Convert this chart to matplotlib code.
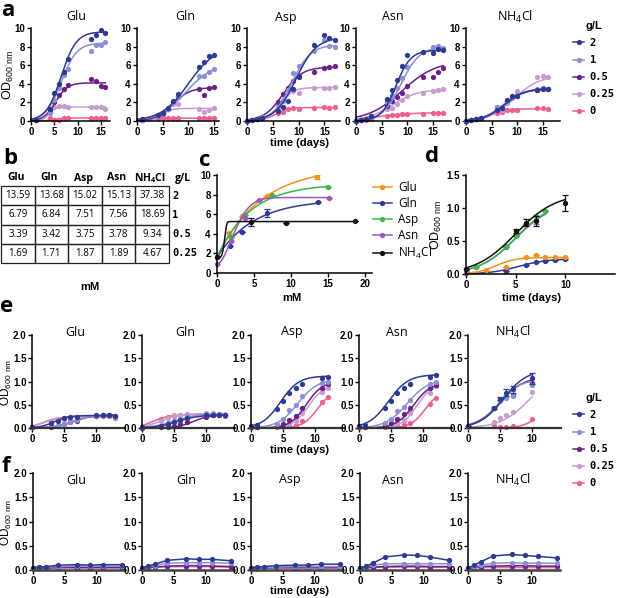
import numpy as np
import matplotlib.pyplot as plt
from matplotlib.lines import Line2D
from matplotlib.patches import Rectangle

plt.rcParams['font.family'] = ['Liberation Sans', 'DejaVu Sans']
plt.rcParams['mathtext.default'] = 'regular'

W, H = 617, 598

doses = ['2', '1', '0.5', '0.25', '0']
dose_colors = ['#2C3A92', '#8C90D0', '#6B2088', '#C59DCF', '#EE5E92']
sources = ['Glu', 'Gln', 'Asp', 'Asn', r'NH$_4$Cl']
src_colors = ['#F7901E', '#2E3A98', '#3DB54A', '#9B58B5', '#111111']

# ---- a: OD600 vs days, rows = 2, 1, 0.5, 0.25, 0 g/L ; fits = (top, x50, k)
a_glu_t = [1, 4, 5, 6, 7, 8, 13, 14, 15, 16]
a_glu = [[0.1, 1.3, 3.0, 4.0, 5.3, 6.7, 8.8, 9.3, 9.8, 9.5],
         [0.1, 0.9, 2.3, 3.6, 5.0, 5.6, 7.5, 8.2, 8.2, 8.5],
         [0.1, 1.0, 2.0, 2.8, 3.4, 3.9, 4.5, 4.3, 3.8, 3.7],
         [0.1, 1.0, 1.5, 1.6, 1.6, 1.5, 1.5, 1.5, 1.5, 1.3],
         [0.1, 0.3, 0.1, 0.1, 0.3, 0.3, 0.35, 0.35, 0.35, 0.35]]
a_glu_fit = [(9.6, 6.5, 0.62), (8.4, 6.5, 0.6), (4.1, 5.3, 0.8), (1.5, 3.8, 1.5), (0.33, 5, 1.0)]

a_gln_t = [1, 4, 5, 6, 7, 8, 12, 13, 14, 15]
a_gln = [[0.2, 0.6, 0.9, 1.4, 2.2, 2.9, 5.8, 6.3, 7.0, 7.1],
         [0.1, 0.5, 0.8, 1.3, 2.0, 2.7, 4.8, 4.8, 5.3, 5.6],
         [0.1, 0.5, 0.8, 1.3, 2.0, 2.6, 3.4, 2.8, 3.5, 3.7],
         [0.1, 0.5, 0.8, 1.3, 1.8, 1.8, 1.3, 1.0, 1.2, 1.4],
         [0.1, 0.3, 0.3, 0.3, 0.3, 0.3, 0.3, 0.3, 0.3, 0.3]]
a_gln_fit = [(8.0, 10.0, 0.38), (6.2, 9.5, 0.38), (3.6, 7.0, 0.6), (1.35, 5.0, 1.2), (0.3, 3.0, 1.0)]

a_asp_t = [0, 1, 2, 3, 6, 7, 8, 9, 10, 13, 15, 16, 17]
a_asp = [[0.05, 0.1, 0.2, 0.3, 1.1, 1.5, 2.2, 3.4, 4.7, 8.2, 9.2, 8.9, 8.7],
         [0.05, 0.1, 0.2, 0.4, 1.5, 2.2, 3.3, 5.2, 5.9, 7.5, 8.7, 8.1, 8.0],
         [0.05, 0.1, 0.2, 0.4, 2.0, 2.9, 3.6, 4.3, 4.8, 5.3, 5.7, 5.8, 5.9],
         [0.05, 0.1, 0.2, 0.4, 1.6, 2.3, 3.4, 3.2, 3.0, 3.6, 3.6, 3.6, 3.7],
         [0.05, 0.1, 0.2, 0.3, 0.9, 1.0, 1.3, 1.4, 1.3, 1.4, 1.5, 1.4, 1.5]]
a_asp_fit = [(9.0, 9.5, 0.5), (8.2, 8.7, 0.55), (5.8, 7.0, 0.55), (3.6, 6.5, 0.8), (1.45, 5.5, 0.8)]

a_asn_t = [0, 1, 2, 3, 6, 7, 8, 9, 10, 13, 15, 16, 17]
a_asn = [[0.05, 0.1, 0.2, 0.5, 2.4, 3.3, 4.4, 5.9, 7.1, 7.4, 7.3, 7.7, 7.6],
         [0.05, 0.1, 0.2, 0.5, 2.0, 2.8, 3.6, 4.6, 5.8, 7.4, 8.0, 8.1, 7.8],
         [0.05, 0.1, 0.2, 0.5, 1.6, 2.1, 2.6, 3.0, 3.8, 4.7, 4.7, 5.3, 5.7],
         [0.05, 0.1, 0.2, 0.4, 1.3, 1.4, 1.8, 2.3, 2.7, 3.0, 3.2, 3.3, 3.4],
         [0.05, 0.1, 0.1, 0.2, 0.55, 0.6, 0.65, 0.7, 0.7, 0.7, 0.85, 0.9, 0.9]]
a_asn_fit = [(7.6, 7.8, 0.7), (8.0, 8.8, 0.55), (6.5, 9.0, 0.3), (3.4, 7.0, 0.4), (0.9, 4.0, 0.3)]

a_nh4_t = [0, 1, 2, 3, 6, 7, 8, 9, 10, 14, 15, 16]
a_nh4 = [[0.05, 0.1, 0.2, 0.3, 1.2, 1.4, 2.3, 2.7, 2.7, 3.3, 3.4, 3.4],
         [0.05, 0.1, 0.2, 0.3, 1.5, 1.4, 2.2, 2.6, 2.8, 3.4, 3.5, 3.4],
         [0.05, 0.1, 0.2, 0.3, 1.3, 1.4, 2.2, 2.6, 2.7, 3.3, 3.5, 3.4],
         [0.05, 0.1, 0.2, 0.3, 1.5, 1.2, 1.9, 2.5, 3.2, 4.7, 4.8, 4.7],
         [0.05, 0.1, 0.2, 0.3, 0.9, 1.0, 1.2, 1.2, 1.2, 1.4, 1.4, 1.3]]
a_nh4_fit = [(3.5, 7.5, 0.5), (3.5, 7.3, 0.5), (3.45, 7.4, 0.5), (4.9, 9.5, 0.4), (1.3, 5.0, 0.8)]

# ---- b: mM equivalents of each g/L
b_gl = ['2', '1', '0.5', '0.25']
b_mm = [[13.59, 13.68, 15.02, 15.13, 37.38],
        [6.79, 6.84, 7.51, 7.56, 18.69],
        [3.39, 3.42, 3.75, 3.78, 9.34],
        [1.69, 1.71, 1.87, 1.89, 4.67]]

# ---- c: max OD vs mM ; fits = (y0, top, x0, h)
c_x = [[0, 1.69, 3.39, 6.79, 13.59],
       [0, 1.71, 3.42, 6.84, 13.68],
       [0, 1.87, 3.75, 7.51, 15.02],
       [0, 1.89, 3.78, 5.67, 15.13],
       [0, 4.67, 9.34, 18.69]]
c_y = [[1.6, 4.1, 5.8, 7.9, 9.8],
       [1.6, 2.8, 4.2, 6.1, 7.2],
       [1.6, 3.7, 5.9, 8.0, 8.8],
       [0.9, 3.3, 5.6, 7.5, 7.7],
       [1.6, 5.2, 5.15, 5.35]]
c_err = [[0, 0, 0, 0, 0.25],
         [0, 0, 0, 0.4, 0],
         [0, 0, 0, 0, 0],
         [0, 0, 0, 0, 0],
         [0, 0.4, 0, 0]]
c_fit = [(1.6, 10.8, 5.9, 1.0), (1.6, 7.5, 5.0, 1.0), (1.6, 9.1, 4.5, 1.0),
         (0.9, 7.7, 3.0, 1.8), (1.6, 5.25, 1.1, 5.0)]

# ---- d: OD600 vs days at a low concentration, per N source
d_t = [[0, 2, 4, 6, 7, 8, 9, 10],
       [0, 4, 6, 7, 8, 9, 10],
       [0, 1, 4, 5, 6, 7, 8],
       [0, 1, 4, 5, 6, 7, 8],
       [0, 5, 6, 7, 10]]
d_y = [[0.05, 0.06, 0.1, 0.25, 0.29, 0.25, 0.25, 0.25],
       [0.02, 0.05, 0.14, 0.18, 0.2, 0.21, 0.22],
       [0.07, 0.1, 0.42, 0.58, 0.76, 0.88, 0.96],
       [0.06, 0.1, 0.41, 0.57, 0.75, 0.82, 0.95],
       [0.07, 0.65, 0.78, 0.8, 1.08]]
d_err = [[0] * 8, [0] * 7, [0] * 7,
         [0, 0, 0, 0, 0, 0.06, 0],
         [0, 0.03, 0.06, 0.08, 0.12]]
d_fit = [(0.25, 3.0, 1.0), (0.23, 5.3, 0.7), (1.1, 5.0, 0.55), (1.08, 5.0, 0.55), (1.22, 5.0, 0.5)]

# ---- e: OD600 vs days (second condition)
e_glu_t = [0, 3, 4, 5, 6, 7, 10, 11, 12, 13]
e_glu = [[0.02, 0.1, 0.15, 0.22, 0.23, 0.24, 0.27, 0.27, 0.27, 0.26],
         [0.02, 0.04, 0.05, 0.08, 0.12, 0.17, 0.26, 0.27, 0.27, 0.26],
         [0.02, 0.03, 0.05, 0.08, 0.12, 0.16, 0.26, 0.27, 0.27, 0.25],
         [0.02, 0.12, 0.16, 0.19, 0.2, 0.2, 0.25, 0.26, 0.26, 0.24],
         [0.02, 0.14, 0.17, 0.19, 0.21, 0.21, 0.25, 0.26, 0.25, 0.22]]
e_glu_fit = [(0.27, 3.5, 0.9), (0.28, 6.3, 0.7), (0.28, 6.5, 0.7), (0.25, 2.0, 0.8), (0.24, 1.8, 0.9)]

e_gln_t = [0, 3, 4, 5, 6, 7, 10, 11, 12, 13]
e_gln = [[0.02, 0.05, 0.08, 0.13, 0.18, 0.22, 0.27, 0.28, 0.28, 0.27],
         [0.02, 0.05, 0.1, 0.15, 0.2, 0.25, 0.3, 0.3, 0.3, 0.28],
         [0.01, 0.02, 0.03, 0.05, 0.08, 0.12, 0.24, 0.27, 0.28, 0.27],
         [0.02, 0.15, 0.22, 0.27, 0.27, 0.3, 0.32, 0.32, 0.3, 0.27],
         [0.02, 0.2, 0.24, 0.26, 0.27, 0.27, 0.3, 0.28, 0.28, 0.26]]
e_gln_fit = [(0.28, 5.5, 0.6), (0.3, 5.0, 0.6), (0.28, 8.0, 0.8), (0.31, 3.0, 0.7), (0.29, 1.8, 0.8)]

e_asp_t = [0, 1, 4, 5, 6, 7, 8, 11, 12]
e_asp = [[0.04, 0.07, 0.41, 0.58, 0.76, 0.87, 0.95, 1.08, 1.1],
         [0.04, 0.04, 0.08, 0.2, 0.38, 0.5, 0.68, 0.97, 0.99],
         [0.03, 0.03, 0.05, 0.08, 0.17, 0.25, 0.43, 0.86, 0.94],
         [0.03, 0.03, 0.04, 0.06, 0.1, 0.15, 0.32, 0.78, 0.86],
         [0.02, 0.02, 0.02, 0.03, 0.04, 0.06, 0.14, 0.55, 0.66]]
e_asp_fit = [(1.12, 4.6, 0.7), (1.05, 7.3, 0.65), (1.0, 8.6, 0.8), (0.92, 8.9, 0.85), (0.8, 10.3, 0.9)]

e_asn_t = [0, 1, 4, 5, 6, 7, 8, 11, 12]
e_asn = [[0.04, 0.07, 0.43, 0.58, 0.76, 0.85, 0.95, 1.1, 1.14],
         [0.04, 0.04, 0.1, 0.2, 0.37, 0.46, 0.6, 0.94, 1.0],
         [0.03, 0.03, 0.06, 0.1, 0.2, 0.3, 0.44, 0.87, 0.92],
         [0.03, 0.03, 0.04, 0.05, 0.1, 0.18, 0.32, 0.75, 0.9],
         [0.02, 0.02, 0.03, 0.04, 0.05, 0.06, 0.1, 0.52, 0.64]]
e_asn_fit = [(1.15, 4.6, 0.65), (1.05, 7.5, 0.6), (0.98, 8.5, 0.75), (0.95, 9.0, 0.85), (0.8, 10.3, 0.9)]

e_nh4_t = [0, 4, 5, 6, 7, 10]
e_nh4 = [[0.04, 0.43, 0.63, 0.76, 0.83, 1.07],
         [0.04, 0.42, 0.58, 0.65, 0.68, 0.93],
         [0.04, 0.42, 0.6, 0.67, 0.72, 0.96],
         [0.03, 0.12, 0.21, 0.27, 0.34, 0.78],
         [0.02, 0.05, 0.03, 0.03, 0.04, 0.2]]
e_nh4_err = [0, 0.02, 0.03, 0.07, 0.07, 0.12]
e_nh4_fit = [(1.25, 5.5, 0.55), (1.05, 4.8, 0.6), (1.1, 5.0, 0.55), (1.2, 9.5, 0.45), (0.5, 11.0, 0.8)]

# ---- f: OD600 vs days (third condition), points joined
f_t = [0, 1, 2, 4, 7, 9, 11, 14]
f_glu = [[0.05, 0.06, 0.07, 0.1, 0.11, 0.1, 0.11, 0.11],
         [0.05, 0.05, 0.06, 0.07, 0.08, 0.08, 0.08, 0.08],
         [0.04, 0.04, 0.04, 0.05, 0.05, 0.05, 0.05, 0.05],
         [0.04, 0.04, 0.05, 0.05, 0.05, 0.05, 0.05, 0.05],
         [0.04, 0.04, 0.04, 0.05, 0.05, 0.05, 0.05, 0.05]]
f_gln = [[0.05, 0.08, 0.12, 0.2, 0.23, 0.22, 0.22, 0.19],
         [0.05, 0.07, 0.09, 0.14, 0.15, 0.15, 0.15, 0.14],
         [0.04, 0.05, 0.06, 0.08, 0.09, 0.09, 0.08, 0.07],
         [0.04, 0.05, 0.06, 0.07, 0.08, 0.08, 0.08, 0.07],
         [0.04, 0.05, 0.06, 0.07, 0.07, 0.07, 0.07, 0.06]]
f_asp = [[0.05, 0.06, 0.07, 0.09, 0.1, 0.1, 0.12, 0.12],
         [0.04, 0.05, 0.05, 0.06, 0.07, 0.07, 0.07, 0.07],
         [0.03, 0.04, 0.04, 0.05, 0.05, 0.05, 0.05, 0.05],
         [0.03, 0.04, 0.04, 0.04, 0.05, 0.05, 0.05, 0.05],
         [0.03, 0.03, 0.04, 0.04, 0.04, 0.04, 0.04, 0.04]]
f_asn = [[0.04, 0.08, 0.14, 0.27, 0.31, 0.3, 0.27, 0.2],
         [0.04, 0.07, 0.1, 0.13, 0.13, 0.13, 0.13, 0.13],
         [0.04, 0.05, 0.06, 0.07, 0.08, 0.08, 0.07, 0.07],
         [0.04, 0.05, 0.06, 0.07, 0.07, 0.07, 0.07, 0.07],
         [0.04, 0.05, 0.05, 0.06, 0.06, 0.06, 0.05, 0.06]]
f_nh4 = [[0.04, 0.1, 0.17, 0.29, 0.32, 0.3, 0.28, 0.25],
         [0.04, 0.07, 0.1, 0.14, 0.15, 0.14, 0.14, 0.14],
         [0.04, 0.05, 0.07, 0.08, 0.09, 0.09, 0.08, 0.08],
         [0.04, 0.05, 0.06, 0.07, 0.07, 0.07, 0.07, 0.07],
         [0.04, 0.05, 0.05, 0.05, 0.05, 0.05, 0.05, 0.05]]

TITLE_FONT = ['Open Sans', 'DejaVu Sans']


def logistic(t, top, x50, k):
    return top / (1.0 + np.exp(-k * (np.asarray(t, dtype=float) - x50)))


def plateau(x, y0, top, x0, h):
    x = np.asarray(x, dtype=float)
    return y0 + (top - y0) * (1 - np.exp(-(x / x0) ** h))


def px_axes(left, top, right, bottom):
    return fig.add_axes([left / W, 1 - bottom / H, (right - left) / W, (bottom - top) / H])


def style(ax, xmax, ymax, xt, yt, yfmt):
    ax.set_xlim(0, xmax)
    ax.set_ylim(0, ymax)
    for s in ('top', 'right'):
        ax.spines[s].set_visible(False)
    for s in ('left', 'bottom'):
        ax.spines[s].set_linewidth(1.1)
    ax.set_xticks(xt)
    ax.set_yticks(yt)
    ax.set_yticklabels([yfmt % v for v in yt])
    ax.tick_params(direction='out', length=3, width=1, labelsize=7, pad=1.5)
    for lab in ax.get_xticklabels() + ax.get_yticklabels():
        lab.set_fontweight('bold')
    ax.patch.set_alpha(0)


def growth(ax, t, ys, fits=None, err=None):
    for i in reversed(range(len(ys))):
        col = dose_colors[i]
        if fits is not None:
            tt = np.linspace(0, max(t), 200)
            ax.plot(tt, logistic(tt, *fits[i]), color=col, lw=1.1, clip_on=False)
            ax.plot(t, ys[i], 'o', color=col, ms=3.8, mew=0, clip_on=False)
        else:
            ax.plot(t, ys[i], '-o', color=col, lw=1.1, ms=3.8, mew=0, clip_on=False)
    if err is not None:
        ax.errorbar(t, ys[0], yerr=err, fmt='none', ecolor=dose_colors[0],
                    elinewidth=0.9, capsize=2, capthick=0.9, clip_on=False)


fig = plt.figure(figsize=(W / 100, H / 100), dpi=100)

# ---- row a
a_sets = [(a_glu_t, a_glu, a_glu_fit), (a_gln_t, a_gln, a_gln_fit),
          (a_asp_t, a_asp, a_asp_fit), (a_asn_t, a_asn, a_asn_fit),
          (a_nh4_t, a_nh4, a_nh4_fit)]
a_left = [31, 137, 247, 356, 466]
a_xmax = [17, 16, 18, 18.5, 18.5]
a_pxu = [4.65, 5.13, 5.15, 5.13, 5.1]
for i, (t, ys, fits) in enumerate(a_sets):
    ax = px_axes(a_left[i], 28, a_left[i] + a_xmax[i] * a_pxu[i], 121)
    growth(ax, t, ys, fits)
    style(ax, a_xmax[i], 10, [0, 5, 10, 15], [0, 2, 4, 6, 8, 10], '%d')

# ---- c
ax_c = px_axes(217, 175, 372, 273)
for i in range(5):
    xx = np.linspace(0, max(c_x[i]), 300)
    ax_c.plot(xx, plateau(xx, *c_fit[i]), color=src_colors[i], lw=1.1, clip_on=False)
    ax_c.plot(c_x[i], c_y[i], 'o', color=src_colors[i], ms=3.8, mew=0, clip_on=False)
    ax_c.errorbar(c_x[i], c_y[i], yerr=c_err[i], fmt='none', ecolor=src_colors[i],
                  elinewidth=0.9, capsize=2, capthick=0.9)
style(ax_c, 21, 10, [0, 5, 10, 15, 20], [0, 2, 4, 6, 8, 10], '%d')

# ---- d
ax_d = px_axes(466, 175, 615, 274)
for i in [1, 0, 3, 2, 4]:
    tt = np.linspace(0, max(d_t[i]), 200)
    ax_d.plot(tt, logistic(tt, *d_fit[i]), color=src_colors[i], lw=1.1, clip_on=False)
    ax_d.plot(d_t[i], d_y[i], 'o', color=src_colors[i], ms=3.8, mew=0, clip_on=False)
    ax_d.errorbar(d_t[i], d_y[i], yerr=d_err[i], fmt='none', ecolor=src_colors[i],
                  elinewidth=0.9, capsize=2, capthick=0.9)
style(ax_d, 15, 1.5, [0, 5, 10], [0, 0.5, 1.0, 1.5], '%.1f')

# ---- row e
e_sets = [(e_glu_t, e_glu, e_glu_fit, None), (e_gln_t, e_gln, e_gln_fit, None),
          (e_asp_t, e_asp, e_asp_fit, None), (e_asn_t, e_asn, e_asn_fit, None),
          (e_nh4_t, e_nh4, e_nh4_fit, e_nh4_err)]
e_left = [32, 142, 251, 359, 468]
for i, (t, ys, fits, err) in enumerate(e_sets):
    ax = px_axes(e_left[i], 335, e_left[i] + 93, 428)
    growth(ax, t, ys, fits, err)
    style(ax, 14.5, 2.0, [0, 5, 10], [0, 0.5, 1.0, 1.5, 2.0], '%.1f')
    ax.tick_params(axis='y', pad=0.8)
    ax.spines['bottom'].set_linewidth(1.6)
    ax.spines['bottom'].set_color('#333333')

# ---- row f
f_sets = [f_glu, f_gln, f_asp, f_asn, f_nh4]
f_left = [33, 142, 251, 360, 468]
for i, ys in enumerate(f_sets):
    ax = px_axes(f_left[i], 473, f_left[i] + 92, 570)
    growth(ax, f_t, ys)
    style(ax, 14.5, 2.0, [0, 5, 10], [0, 0.5, 1.0, 1.5, 2.0], '%.1f')
    ax.tick_params(axis='y', pad=0.8)
    ax.spines['bottom'].set_linewidth(1.8)
    ax.spines['bottom'].set_color('#444444')

# ---- overlay for labels, table and legends (pixel coordinates)
ov = fig.add_axes([0, 0, 1, 1])
ov.set_xlim(0, W)
ov.set_ylim(H, 0)
ov.axis('off')

for lab, (x, y) in zip('abcdef', [(8, 10), (10, 158), (205, 161), (432, 157), (7, 307), (6, 467)]):
    ov.text(x, y, lab, fontsize=16, fontweight='bold', family=TITLE_FONT,
            ha='center', va='center')

a_title_x = [76, 185, 286, 393, 515]
e_title_x = [75, 185, 292, 397, 513]
f_title_x = [76, 186, 290, 393, 513]
for i in range(5):
    ov.text(a_title_x[i], 17, sources[i], fontsize=9, family=TITLE_FONT, ha='center', va='center')
    ov.text(e_title_x[i], 332, sources[i], fontsize=9, family=TITLE_FONT, ha='center', va='center')
    ov.text(f_title_x[i], 480, sources[i], fontsize=9, family=TITLE_FONT, ha='center', va='center')

od_label = r'OD$_{\mathregular{600\ nm}}$'
for (x, y, fs) in [(8, 75, 9), (436, 225, 9), (6.5, 382, 8.5), (6.5, 522, 8.5)]:
    ov.text(x, y, od_label, fontsize=fs, rotation=90, ha='center', va='center')

for (x, y, s) in [(300, 143, 'time (days)'), (532, 298, 'time (days)'),
                  (300, 450, 'time (days)'), (300, 591, 'time (days)'),
                  (292, 298, 'mM'), (90, 287, 'mM')]:
    ov.text(x, y, s, fontsize=8, fontweight='bold', ha='center', va='center')

# table b
tb_left, tb_top, cw, rh = 1, 186, 33.6, 19.25
for j, name in enumerate(sources):
    ov.text(tb_left + cw * (j + 0.5) - 2, 178, name, fontsize=7.5, fontweight='bold',
            family=TITLE_FONT, ha='center', va='center')
ov.text(183, 178, 'g/L', fontsize=7.5, fontweight='bold', family=TITLE_FONT,
        ha='center', va='center')
for r in range(4):
    for j in range(5):
        ov.add_patch(Rectangle((tb_left + cw * j, tb_top + rh * r), cw, rh,
                               fill=False, lw=0.9, ec='#222222'))
        ov.text(tb_left + cw * (j + 0.5), tb_top + rh * (r + 0.5), '%.2f' % b_mm[r][j],
                fontsize=7, family=TITLE_FONT, ha='center', va='center')
    ov.text(tb_left + cw * 5 + 3, tb_top + rh * (r + 0.5), b_gl[r], fontsize=7.5,
            fontweight='bold', family='DejaVu Sans Mono', ha='left', va='center')

# legends
dose_handles = [Line2D([], [], color=c, lw=1.1, marker='o', ms=3.8, mew=0) for c in dose_colors]
for (x, y) in [(573, 21), (573, 393)]:
    leg = fig.legend(dose_handles, doses, title='g/L', loc='upper left',
                     bbox_to_anchor=(x / W, 1 - y / H), frameon=False,
                     prop={'family': 'DejaVu Sans Mono', 'weight': 'bold', 'size': 7.5},
                     handlelength=1.1, handletextpad=0.5, labelspacing=0.68,
                     borderpad=0, borderaxespad=0)
    leg.get_title().set_fontweight('bold')
    leg.get_title().set_fontsize(8)

src_handles = [Line2D([], [], color=c, lw=1.1, marker='o', ms=3.8, mew=0) for c in src_colors]
fig.legend(src_handles, sources, loc='upper left', bbox_to_anchor=(373 / W, 1 - 181 / H),
           frameon=False, prop={'family': TITLE_FONT, 'size': 8.5},
           handlelength=1.6, handletextpad=0.5, labelspacing=0.25,
           borderpad=0, borderaxespad=0)

fig.savefig('out.png', dpi=100)
